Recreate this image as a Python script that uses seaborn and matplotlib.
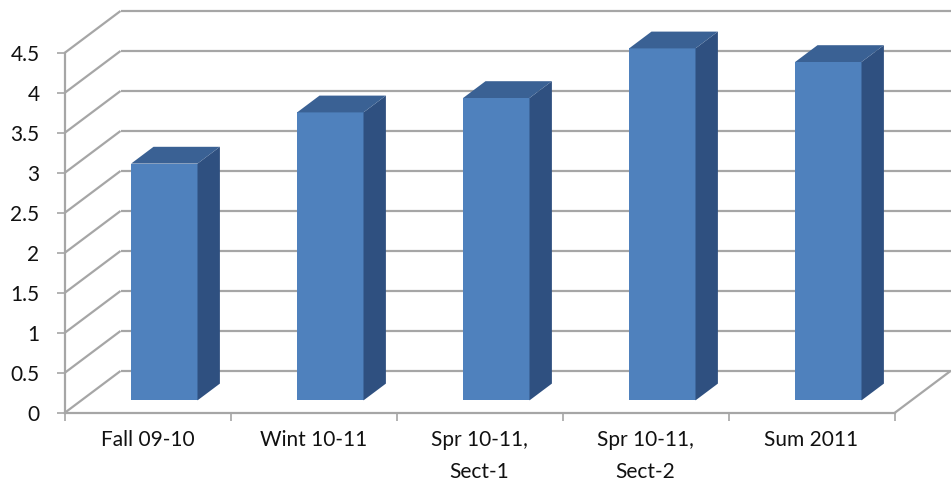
import numpy as np
import pandas as pd
import seaborn as sns
import matplotlib.pyplot as plt
from matplotlib.patches import Polygon

# data
categories = ["Fall 09-10", "Wint 10-11", "Spr 10-11,\nSect-1", "Spr 10-11,\nSect-2", "Sum 2011"]
scores = [2.96, 3.6, 3.78, 4.4, 4.23]
y_ticks = [0, 0.5, 1, 1.5, 2, 2.5, 3, 3.5, 4, 4.5]

sns.set_style("white")
plt.rcParams['font.family'] = ['Lato', 'DejaVu Sans']

W, H = 952, 486
fig = plt.figure(figsize=(W / 100, H / 100), dpi=100)

# pixel geometry of the fake 3d box
cat_px = 166.0          # one category step
val_px = 80.0           # one value unit
depth_px = (56.0, 42.0)  # full depth of the box (right, up)
front_x0 = 64.5         # front left edge of the floor
front_y0 = 413.0        # front floor line (from top)
bar_d0, bar_d1 = 0.3, 0.7  # depth where bar faces sit

DX = depth_px[0] / cat_px
DY = depth_px[1] / val_px

# main axes: data coords are the plane of the bar front faces
ax = fig.add_axes([0, 0, 1, 1])
df = pd.DataFrame({"term": categories, "score": scores})
sns.barplot(data=df, x="term", y="score", order=categories, color="#4f81bd",
            saturation=1, width=0.4, linewidth=0, ax=ax, zorder=3)

cx0 = front_x0 + cat_px / 2 + bar_d0 * depth_px[0]
cy0 = front_y0 - bar_d0 * depth_px[1]
ax.set_xlim((0 - cx0) / cat_px, (W - cx0) / cat_px)
ax.set_ylim((cy0 - H) / val_px, cy0 / val_px)
ax.axis("off")


def pt(x, v, d):
    # point at category position x, value v, absolute depth d (0 front, 1 back)
    return (x + (d - bar_d0) * DX, v + (d - bar_d0) * DY)


grid_kw = dict(color="#a6a6a6", lw=1.6, zorder=1, solid_capstyle="butt")
x_left, x_right = -0.5, len(categories) - 0.5
for v in y_ticks:
    a, b = pt(x_left, v, 1), pt(x_right, v, 1)
    ax.plot([a[0], b[0]], [a[1], b[1]], **grid_kw)
    a, b = pt(x_left, v, 0), pt(x_left, v, 1)
    ax.plot([a[0], b[0]], [a[1], b[1]], **grid_kw)
a, b = pt(x_right, 0, 0), pt(x_right, 0, 1)
ax.plot([a[0], b[0]], [a[1], b[1]], **grid_kw)

# side and top faces of each bar
bd = bar_d1 - bar_d0
for p in ax.patches[:len(scores)]:
    x0 = p.get_x()
    x1 = x0 + p.get_width()
    h = p.get_height()
    side = [(x1, 0), (x1 + bd * DX, bd * DY), (x1 + bd * DX, h + bd * DY), (x1, h)]
    top = [(x0, h), (x1, h), (x1 + bd * DX, h + bd * DY), (x0 + bd * DX, h + bd * DY)]
    ax.add_patch(Polygon(side, closed=True, facecolor="#2f5080", edgecolor="none", zorder=3))
    ax.add_patch(Polygon(top, closed=True, facecolor="#3a6194", edgecolor="none", zorder=3))

# front axes: the y axis and the floor front edge with category labels
axf = fig.add_axes([front_x0 / W, (H - front_y0) / H,
                    len(categories) * cat_px / W, (y_ticks[-1] * val_px) / H])
axf.patch.set_alpha(0)
axf.set_xlim(x_left, x_right)
axf.set_ylim(0, y_ticks[-1])
for s in ["top", "right"]:
    axf.spines[s].set_visible(False)
for s in ["left", "bottom"]:
    axf.spines[s].set_color("#a6a6a6")
    axf.spines[s].set_linewidth(1.6)
axf.set_yticks(y_ticks)
axf.set_yticklabels([f"{t:g}" for t in y_ticks])
axf.tick_params(axis="y", length=6, width=1.2, color="#a6a6a6", pad=12,
                labelsize=15, labelcolor="#111111", left=True)
axf.set_xticks(np.arange(len(categories) + 1) - 0.5)
axf.set_xticklabels([])
axf.set_xticks(np.arange(len(categories)), minor=True)
axf.set_xticklabels(categories, minor=True, linespacing=1.75)
axf.tick_params(axis="x", which="major", length=6, width=1.2, color="#a6a6a6", bottom=True)
axf.tick_params(axis="x", which="minor", length=0, pad=12, labelsize=15, labelcolor="#111111")

fig.savefig("out.png", dpi=100)
